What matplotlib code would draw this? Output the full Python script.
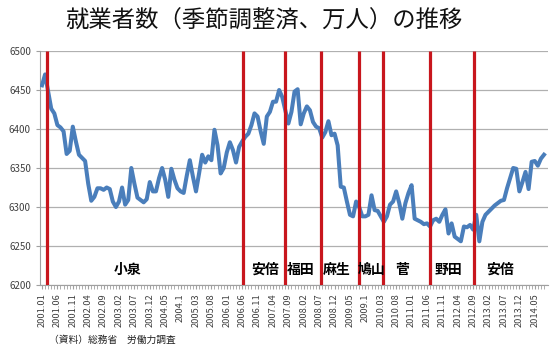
import numpy as np
import pandas as pd
import matplotlib
matplotlib.use('Agg')
import matplotlib.pyplot as plt

plt.rcParams['font.family'] = ['Noto Sans CJK JP', 'DejaVu Sans']

# employed persons, seasonally adjusted (10k persons), monthly 2001.01 - 2014.08
employed = [
    6456, 6470, 6448, 6426, 6420, 6405, 6402, 6397, 6368, 6372,
    6403, 6384, 6367, 6363, 6359, 6330, 6308, 6313, 6324, 6324,
    6322, 6325, 6323, 6307, 6300, 6307, 6325, 6303, 6309, 6350,
    6330, 6312, 6309, 6306, 6310, 6332, 6320, 6320, 6337, 6350,
    6335, 6313,
    6349, 6335, 6324, 6320, 6318, 6340, 6360, 6339, 6320, 6343,
    6367, 6357, 6365, 6360, 6399, 6379, 6343, 6350, 6370, 6383,
    6373, 6357, 6377, 6384, 6390, 6394, 6405, 6420, 6416, 6397,
    6381, 6416, 6422, 6435, 6435, 6450, 6441, 6424, 6407, 6422,
    6448, 6451,
    6406, 6420, 6429, 6424, 6409, 6403, 6401, 6389, 6396, 6410,
    6392, 6394, 6379, 6326, 6325, 6307, 6290, 6288, 6307, 6300,
    6288, 6288, 6290, 6315, 6296, 6295, 6288, 6281, 6288, 6303,
    6307, 6320, 6305, 6285, 6305, 6318, 6328, 6285, 6283, 6281,
    6278, 6279,
    6275, 6283, 6285, 6281, 6290, 6297, 6266, 6279, 6262, 6259,
    6256, 6275, 6274, 6277, 6271, 6290, 6256, 6281, 6290, 6294,
    6298, 6302, 6305, 6308, 6309, 6324, 6337, 6350, 6349, 6320,
    6332, 6345, 6323, 6358, 6359, 6353, 6362, 6367,
]
months = pd.date_range('2001-01-01', periods=len(employed), freq='MS')

# prime ministers: label position (month index) and red change lines
pm_names = ['小泉', '安倍', '福田', '麻生', '鳩山', '菅', '野田', '安倍']
pm_label_pos = [27.9, 72.4, 84.0, 95.7, 107.0, 116.8, 131.9, 148.7]
pm_change_pos = [1.6, 65.3, 79.0, 90.6, 102.8, 110.8, 126.0, 140.3]

# x tick labels every 5 months (excel shows October as ".1")
tick_idx = list(range(0, len(employed), 5))
tick_labels = []
for i in tick_idx:
    m = months[i]
    if m.month == 10:
        tick_labels.append('%d.1' % m.year)
    else:
        tick_labels.append('%d.%02d' % (m.year, m.month))

fig = plt.figure(figsize=(5.5, 3.54), dpi=100)
ax = fig.add_axes([40/550, 1-285/354, 508/550, 234/354])

x = np.arange(len(employed))
ax.plot(x, employed, color='#4A7EBB', lw=2.9, solid_joinstyle='round', zorder=3)

for p in pm_change_pos:
    ax.plot([p, p], [6200, 6500], color='#C8161D', lw=2.3, zorder=4,
            solid_capstyle='butt')

for name, p in zip(pm_names, pm_label_pos):
    ax.text(p, 6219, name, ha='center', va='center', fontsize=10,
            fontweight='bold', color='black', zorder=5)

ax.set_ylim(6200, 6500)
ax.set_yticks(np.arange(6200, 6501, 50))
ax.set_xlim(-0.65, 164.3)
ax.set_xticks(tick_idx)
ax.set_xticklabels(tick_labels, rotation=90, fontsize=6.7, color='#404040')
ax.set_xticks(x, minor=True)
ax.tick_params(axis='y', labelsize=7, colors='#404040', length=3, color='#A0A0A0')
ax.tick_params(axis='x', which='both', length=3, color='#A0A0A0', pad=3)
ax.grid(axis='y', color='#B0B0B0', lw=0.9)
ax.set_axisbelow(True)
for s in ['top', 'right']:
    ax.spines[s].set_visible(False)
ax.spines['left'].set_color('#A0A0A0')
ax.spines['bottom'].set_color('#A0A0A0')

fig.text(264/550, 1-21/354, '就業者数（季節調整済、万人）の推移', ha='center', va='center',
         fontsize=16.8, color='#111111')
fig.text(49/550, 1-340/354, '（資料）総務省　労働力調査', ha='left', va='center',
         fontsize=7, color='#222222')

fig.savefig('out.png', dpi=100)
